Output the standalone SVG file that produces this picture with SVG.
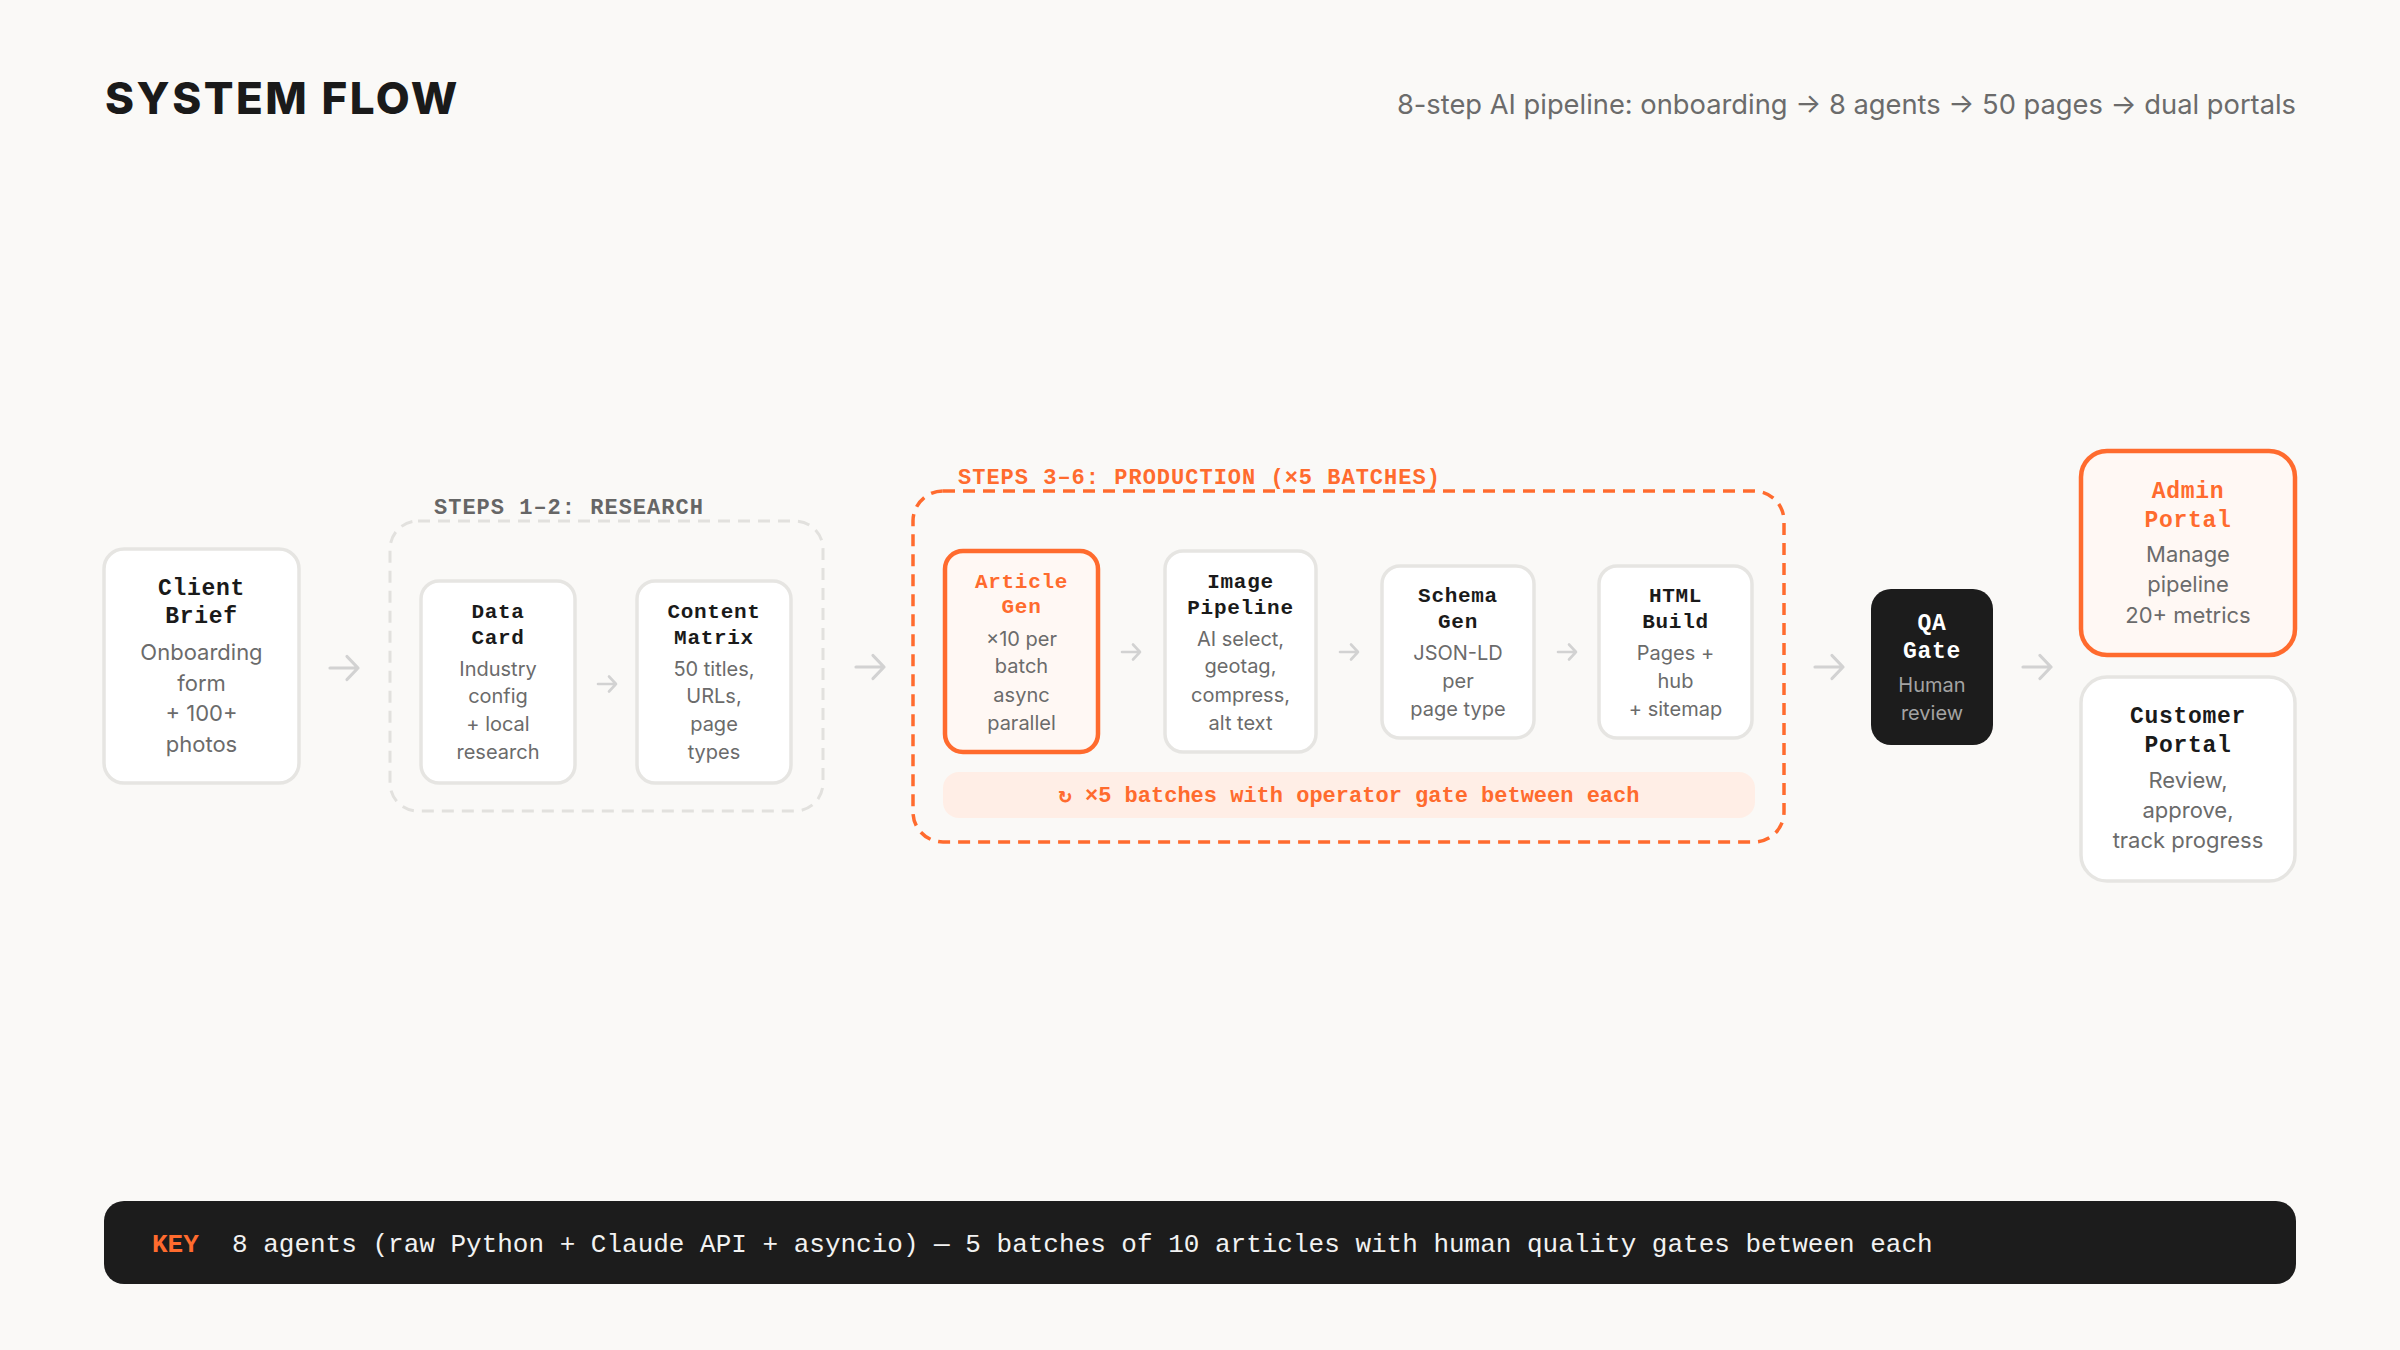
<svg xmlns="http://www.w3.org/2000/svg" width="2400" height="1350" viewBox="0 0 2400 1350">
<defs>
<style>
.bg{fill:#faf9f7}
.node{fill:#ffffff;stroke:#e6e5e2;stroke-width:3.5}
.hot{fill:#fff8f4;stroke:#ff6b2e;stroke-width:4.5}
.dark{fill:#1c1c1c}
.grp{fill:none;stroke:#e2e1de;stroke-width:3;stroke-dasharray:12 8}
.grpo{fill:none;stroke:#ff6b2e;stroke-width:3.5;stroke-dasharray:12 8}
.mono{font-family:"Liberation Mono","DejaVu Sans Mono",monospace;font-weight:bold}
.t{font-family:"Liberation Mono","DejaVu Sans Mono",monospace;font-weight:bold;fill:#1a1a1a;text-anchor:middle;letter-spacing:0.7px}
.tb{font-size:23px}
.ts{font-size:21px}
.to{fill:#ff6b2e}
.tw{fill:#ffffff}
.d{font-family:Inter,"Liberation Sans",sans-serif;fill:#6b6b6b;text-anchor:middle}
.db{font-size:22px}
.ds{font-size:20px}
.dq{fill:#a3a3a3}
.lbl{font-size:22px;letter-spacing:1px}
.arr{fill:none;stroke:#d2d2d2;stroke-linecap:round;stroke-linejoin:round}
.big{stroke-width:3.2}
.sm{stroke-width:2.6}
</style>
</defs>
<rect class="bg" x="0" y="0" width="2400" height="1350"/>

<g id="header">
<text x="105" y="114" font-family="Inter,'Liberation Sans',sans-serif" font-weight="800" font-size="44" letter-spacing="2.5" fill="#1a1a1a">SYSTEM FLOW</text>
<text x="2296" y="114" font-family="Inter,'Liberation Sans',sans-serif" font-size="27.3" fill="#6b6b6b" text-anchor="end">8-step AI pipeline: onboarding → 8 agents → 50 pages → dual portals</text>
</g>

<g id="group-research">
<rect class="grp" x="390" y="521" width="433" height="290" rx="28"/>
<text class="mono lbl" x="434" y="514" fill="#666666">STEPS 1–2: RESEARCH</text>
</g>

<g id="group-production">
<rect class="grpo" x="913" y="491" width="871" height="351" rx="30"/>
<text class="mono lbl" x="958" y="484" fill="#ff6b2e">STEPS 3–6: PRODUCTION (×5 BATCHES)</text>
</g>

<g id="connectors">
<path class="arr big" d="M330 668H358M347 656.5L358 668L347 679.5"/>
<path class="arr sm" d="M598 684H616M609 676.5L616 684L609 691.5"/>
<path class="arr big" d="M856 667H884M873 655.5L884 667L873 678.5"/>
<path class="arr sm" d="M1122 652H1140M1133 644.5L1140 652L1133 659.5"/>
<path class="arr sm" d="M1340 652H1358M1351 644.5L1358 652L1351 659.5"/>
<path class="arr sm" d="M1558 652H1576M1569 644.5L1576 652L1569 659.5"/>
<path class="arr big" d="M1815 667H1843M1832 655.5L1843 667L1832 678.5"/>
<path class="arr big" d="M2023 667H2051M2040 655.5L2051 667L2040 678.5"/>
</g>

<g id="node-client-brief">
<rect class="node" x="104" y="549" width="195" height="234" rx="20"/>
<text class="t tb" x="201.5" y="595">Client</text>
<text class="t tb" x="201.5" y="623">Brief</text>
<text class="d db" x="201.5" y="660">Onboarding</text>
<text class="d db" x="201.5" y="690.5">form</text>
<text class="d db" x="201.5" y="721">+ 100+</text>
<text class="d db" x="201.5" y="752">photos</text>
</g>

<g id="node-data-card">
<rect class="node" x="421" y="581" width="154" height="202" rx="18"/>
<text class="t ts" x="498" y="618">Data</text>
<text class="t ts" x="498" y="644">Card</text>
<text class="d ds" x="498" y="676">Industry</text>
<text class="d ds" x="498" y="703">config</text>
<text class="d ds" x="498" y="731">+ local</text>
<text class="d ds" x="498" y="759">research</text>
</g>

<g id="node-content-matrix">
<rect class="node" x="637" y="581" width="154" height="202" rx="18"/>
<text class="t ts" x="714" y="618">Content</text>
<text class="t ts" x="714" y="644">Matrix</text>
<text class="d ds" x="714" y="676">50 titles,</text>
<text class="d ds" x="714" y="703">URLs,</text>
<text class="d ds" x="714" y="731">page</text>
<text class="d ds" x="714" y="759">types</text>
</g>

<g id="node-article-gen">
<rect class="hot" x="945" y="551" width="153" height="201" rx="18"/>
<text class="t ts to" x="1021.5" y="588">Article</text>
<text class="t ts to" x="1021.5" y="613">Gen</text>
<text class="d ds" x="1021.5" y="646">×10 per</text>
<text class="d ds" x="1021.5" y="673">batch</text>
<text class="d ds" x="1021.5" y="702">async</text>
<text class="d ds" x="1021.5" y="730">parallel</text>
</g>

<g id="node-image-pipeline">
<rect class="node" x="1165" y="551" width="151" height="201" rx="18"/>
<text class="t ts" x="1240.5" y="588">Image</text>
<text class="t ts" x="1240.5" y="614">Pipeline</text>
<text class="d ds" x="1240.5" y="646">AI select,</text>
<text class="d ds" x="1240.5" y="673">geotag,</text>
<text class="d ds" x="1240.5" y="702">compress,</text>
<text class="d ds" x="1240.5" y="730">alt text</text>
</g>

<g id="node-schema-gen">
<rect class="node" x="1382" y="566" width="152" height="172" rx="18"/>
<text class="t ts" x="1458" y="602">Schema</text>
<text class="t ts" x="1458" y="628">Gen</text>
<text class="d ds" x="1458" y="660">JSON-LD</text>
<text class="d ds" x="1458" y="688">per</text>
<text class="d ds" x="1458" y="716">page type</text>
</g>

<g id="node-html-build">
<rect class="node" x="1599" y="566" width="153" height="172" rx="18"/>
<text class="t ts" x="1675.5" y="602">HTML</text>
<text class="t ts" x="1675.5" y="628">Build</text>
<text class="d ds" x="1675.5" y="660">Pages +</text>
<text class="d ds" x="1675.5" y="688">hub</text>
<text class="d ds" x="1675.5" y="716">+ sitemap</text>
</g>

<g id="batch-note">
<rect x="943" y="772" width="812" height="46" rx="16" fill="#ffeee6"/>
<text class="mono" x="1349" y="802" font-size="22" fill="#ff6b2e" text-anchor="middle">↻ ×5 batches with operator gate between each</text>
</g>

<g id="node-qa-gate">
<rect class="dark" x="1871" y="589" width="122" height="156" rx="20"/>
<text class="t tb tw" x="1932" y="630">QA</text>
<text class="t tb tw" x="1932" y="658">Gate</text>
<text class="d ds dq" x="1932" y="692">Human</text>
<text class="d ds dq" x="1932" y="720">review</text>
</g>

<g id="node-admin-portal">
<rect class="hot" x="2081" y="451" width="214" height="204" rx="26"/>
<text class="t tb to" x="2188" y="498">Admin</text>
<text class="t tb to" x="2188" y="527">Portal</text>
<text class="d db" x="2188" y="562">Manage</text>
<text class="d db" x="2188" y="592">pipeline</text>
<text class="d db" x="2188" y="623">20+ metrics</text>
</g>

<g id="node-customer-portal">
<rect class="node" x="2081" y="677" width="214" height="204" rx="26"/>
<text class="t tb" x="2188" y="723">Customer</text>
<text class="t tb" x="2188" y="752">Portal</text>
<text class="d db" x="2188" y="788">Review,</text>
<text class="d db" x="2188" y="818">approve,</text>
<text class="d db" x="2188" y="848">track progress</text>
</g>

<g id="key">
<rect class="dark" x="104" y="1201" width="2192" height="83" rx="20"/>
<text class="mono" x="152" y="1252" font-size="26" fill="#ff6b2e">KEY</text>
<text x="232" y="1252" font-family="'Liberation Mono','DejaVu Sans Mono',monospace" font-size="26" fill="#f2f2f2">8 agents (raw Python + Claude API + asyncio) — 5 batches of 10 articles with human quality gates between each</text>
</g>
</svg>
